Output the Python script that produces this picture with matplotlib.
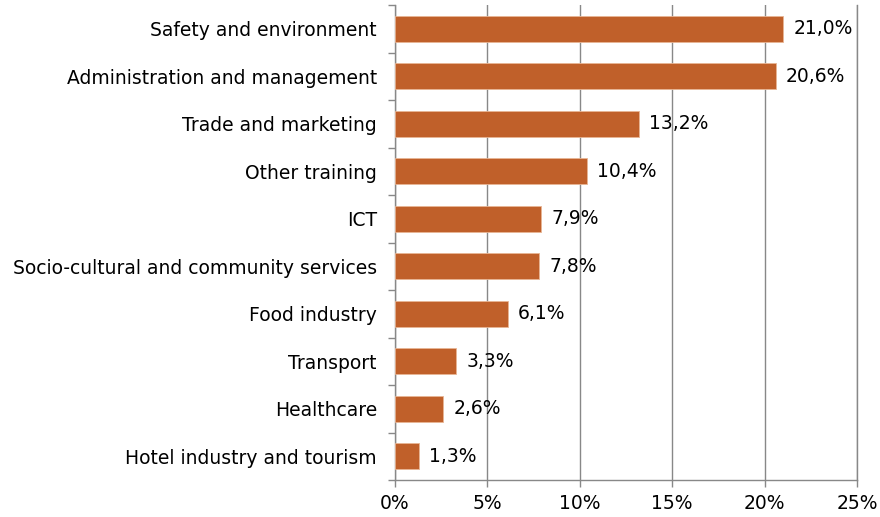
import matplotlib
matplotlib.use('Agg')
import matplotlib.pyplot as plt
import numpy as np

categories = [
    'Safety and environment',
    'Administration and management',
    'Trade and marketing',
    'Other training',
    'ICT',
    'Socio-cultural and community services',
    'Food industry',
    'Transport',
    'Healthcare',
    'Hotel industry and tourism',
]
values = [21.0, 20.6, 13.2, 10.4, 7.9, 7.8, 6.1, 3.3, 2.6, 1.3]
xticks = [0, 5, 10, 15, 20, 25]

plt.rcParams['font.family'] = 'DejaVu Sans'
fs = 13.5

fig = plt.figure(figsize=(8.8, 5.17), dpi=100)
ax = fig.add_axes([395/880, 1 - 480/517, (857-395)/880, 475/517])

y = np.arange(len(categories))[::-1]
ax.barh(y, values, height=0.55, color='#C0602A', edgecolor='#E8B595', linewidth=0.6, zorder=3)

for yi, v in zip(y, values):
    ax.text(v + 0.55, yi, f'{v:.1f}%'.replace('.', ','), va='center', ha='left',
            fontsize=fs, color='black', zorder=4)

ax.set_xlim(0, 25)
ax.set_ylim(-0.5, len(categories) - 0.5)
ax.set_xticks(xticks)
ax.set_xticklabels([f'{t}%' for t in xticks], fontsize=fs)
ax.set_yticks(y)
ax.set_yticklabels(categories, fontsize=fs)
ax.set_yticks(np.arange(len(categories) + 1) - 0.5, minor=True)
ax.tick_params(axis='y', which='major', length=0, pad=13)
ax.tick_params(axis='y', which='minor', length=5, color='#888888', width=1)
ax.tick_params(axis='x', length=5, color='#888888', width=1, pad=5)

ax.grid(axis='x', color='#888888', linewidth=1, zorder=0)
ax.spines['top'].set_visible(False)
for s in ['left', 'bottom', 'right']:
    ax.spines[s].set_color('#888888')
    ax.spines[s].set_linewidth(1)

fig.savefig('out.png', dpi=100)
